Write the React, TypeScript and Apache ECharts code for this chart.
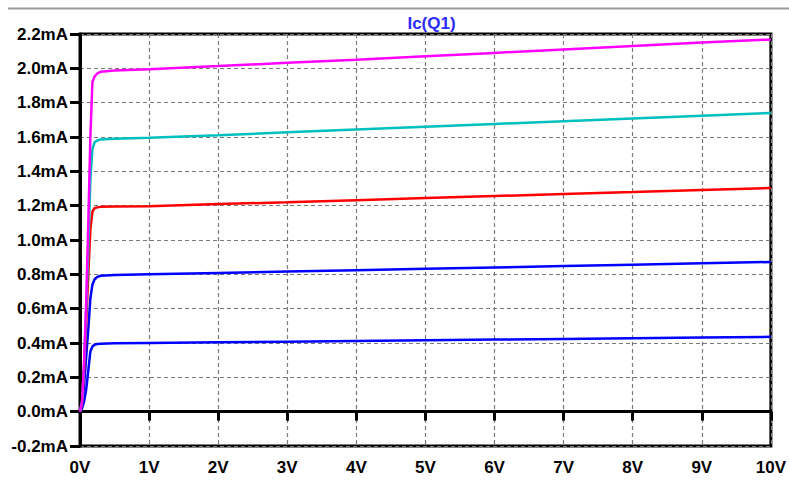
import React, { useEffect, useRef } from "react";
import * as echarts from "echarts";

// Collector-emitter voltage (V)
const vce = [0, 0.03, 0.06, 0.09, 0.12, 0.15, 0.18, 0.21, 0.25, 0.3, 0.5, 1, 2, 3, 4, 5, 6, 7, 8, 9, 10];

// Collector current Ic(Q1) in mA, one curve per base-current step
const icMagenta = [0, 0.06, 0.3, 0.65, 1.1, 1.6, 1.92, 1.952, 1.97, 1.98, 1.988, 1.995, 2.013, 2.032, 2.05, 2.07, 2.09, 2.11, 2.13, 2.15, 2.168];
const icCyan = [0, 0.06, 0.28, 0.6, 0.95, 1.35, 1.53, 1.568, 1.58, 1.586, 1.59, 1.595, 1.61, 1.627, 1.643, 1.66, 1.676, 1.692, 1.708, 1.724, 1.74];
const icRed = [0, 0.05, 0.25, 0.52, 0.8, 1.06, 1.165, 1.185, 1.19, 1.193, 1.195, 1.197, 1.209, 1.22, 1.232, 1.244, 1.256, 1.268, 1.279, 1.291, 1.303];
const icBlueHigh = [0, 0.04, 0.16, 0.32, 0.48, 0.66, 0.74, 0.77, 0.785, 0.792, 0.796, 0.8, 0.808, 0.816, 0.824, 0.832, 0.84, 0.848, 0.856, 0.864, 0.872];
const icBlueLow = [0, 0.02, 0.06, 0.13, 0.24, 0.35, 0.38, 0.39, 0.394, 0.396, 0.398, 0.4, 0.404, 0.408, 0.412, 0.416, 0.42, 0.424, 0.428, 0.432, 0.436];

const curves = [
  { name: "Ic(Q1) a", color: "#0000ff", data: icBlueLow },
  { name: "Ic(Q1) b", color: "#0000ff", data: icBlueHigh },
  { name: "Ic(Q1) c", color: "#ff0000", data: icRed },
  { name: "Ic(Q1) d", color: "#00bfbf", data: icCyan },
  { name: "Ic(Q1) e", color: "#ff00ff", data: icMagenta },
];

const FONT = "'Liberation Sans', Arial, sans-serif";

export default function App() {
  const ref = useRef<HTMLDivElement>(null);

  useEffect(() => {
    if (!ref.current) return;
    const chart = echarts.init(ref.current, undefined, { renderer: "svg" });
    chart.setOption({
      animation: false,
      backgroundColor: "#ffffff",
      title: {
        text: "Ic(Q1)",
        left: 426.5,
        top: 10,
        textAlign: "center",
        textStyle: { color: "#2b2bff", fontSize: 17, fontWeight: "bold", fontFamily: FONT },
      },
      graphic: [
        {
          type: "line",
          shape: { x1: 8, y1: 8.5, x2: 789, y2: 8.5 },
          style: { stroke: "#9a9a9a", lineWidth: 2 },
        },
      ],
      grid: {
        left: 80,
        right: 16,
        top: 34,
        bottom: 34,
        show: true,
        borderColor: "#000",
        borderWidth: 3,
        backgroundColor: "transparent",
      },
      xAxis: {
        type: "value",
        min: 0,
        max: 10,
        interval: 1,
        axisLine: { show: true, lineStyle: { color: "#000", width: 3 } },
        axisTick: { show: true, length: 9, lineStyle: { color: "#000", width: 3 } },
        axisLabel: {
          margin: 13,
          color: "#000",
          fontSize: 17,
          fontWeight: "bold",
          fontFamily: FONT,
          formatter: (v: number) => `${Math.round(v)}V`,
        },
        splitLine: { show: true, lineStyle: { color: "#7a7a7a", width: 1.2, type: [4, 3] } },
      },
      yAxis: {
        type: "value",
        min: -0.2,
        max: 2.2,
        interval: 0.2,
        axisLine: { show: true, lineStyle: { color: "#000", width: 3 } },
        axisTick: { show: true, length: 10, lineStyle: { color: "#000", width: 3 } },
        axisLabel: {
          margin: 12,
          color: "#000",
          fontSize: 17,
          fontWeight: "bold",
          fontFamily: FONT,
          formatter: (v: number) => `${v.toFixed(1)}mA`,
        },
        splitLine: { show: true, lineStyle: { color: "#7a7a7a", width: 1.2, type: [4, 3] } },
      },
      series: curves.map((c) => ({
        name: c.name,
        type: "line",
        data: vce.map((v, i) => [v, c.data[i]]),
        showSymbol: false,
        symbol: "none",
        lineStyle: { color: c.color, width: 2.5 },
        itemStyle: { color: c.color },
        z: 3,
      })),
    });
    return () => chart.dispose();
  }, []);

  return (
    <div
      ref={ref}
      style={{ position: "fixed", left: 0, top: 0, width: 789, height: 480, overflow: "hidden" }}
    />
  );
}
